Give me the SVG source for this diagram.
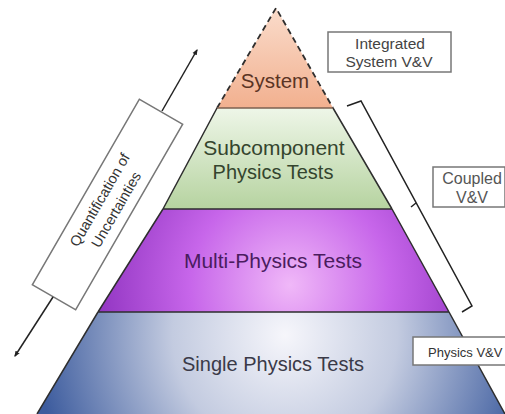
<svg xmlns="http://www.w3.org/2000/svg" width="505" height="414" viewBox="0 0 505 414">
<defs>
<style>
.lbl{font-family:"Liberation Sans","DejaVu Sans",sans-serif;text-anchor:middle}
.box{fill:#fff;stroke:#777;stroke-width:1.5}
.side{stroke:#2e2e2e;stroke-width:1.5;fill:none}
.conn{stroke:#222;stroke-width:1.5;fill:none}
</style>
<linearGradient id="gSys" x1="0" y1="0" x2="0" y2="1">
<stop offset="0" stop-color="#fadccb"/><stop offset="1" stop-color="#f2b08f"/>
</linearGradient>
<linearGradient id="gSub" x1="0" y1="0" x2="0" y2="1">
<stop offset="0" stop-color="#eef6e8"/><stop offset="1" stop-color="#b6d3a0"/>
</linearGradient>
<radialGradient id="gMul" gradientUnits="userSpaceOnUse" cx="290" cy="285" r="200">
<stop offset="0" stop-color="#f0b8f8"/><stop offset="0.5" stop-color="#c766ea"/><stop offset="1" stop-color="#8e32bf"/>
</radialGradient>
<radialGradient id="gSin" gradientUnits="userSpaceOnUse" cx="285" cy="335" r="250">
<stop offset="0" stop-color="#f6f6fb"/><stop offset="0.45" stop-color="#c3cbe0"/><stop offset="1" stop-color="#3d5c9e"/>
</radialGradient>
<marker id="ah" viewBox="0 0 10 10" refX="8" refY="5" markerWidth="4" markerHeight="4" orient="auto-start-reverse">
<path d="M0,1 L10,5 L0,9 z" fill="#222"/>
</marker>
</defs>

<g id="single">
<polygon points="98,312 449,312 505,414 37,414" fill="url(#gSin)"/>
<path class="side" d="M98,312 L37,414 M449,312 L505,414"/>
<text class="lbl" x="273" y="371" font-size="20" fill="#3a3a48">Single Physics Tests</text>
</g>
<g id="multi">
<polygon points="163,209 392,209 449,312 98,312" fill="url(#gMul)"/>
<path class="side" d="M163,209 L98,312 M392,209 L449,312 M98,312 L449,312"/>
<text class="lbl" x="273" y="268" font-size="21" fill="#4a1c5e">Multi-Physics Tests</text>
</g>
<g id="subcomponent">
<polygon points="217,108 333,108 392,209 163,209" fill="url(#gSub)"/>
<path class="side" d="M217,108 L163,209 M333,108 L392,209 M163,209 L392,209"/>
<text class="lbl" x="274" y="155" font-size="21" fill="#34452e">Subcomponent</text>
<text class="lbl" x="273" y="179" font-size="20" fill="#34452e">Physics Tests</text>
</g>
<g id="system">
<polygon points="276,8 333,108 217,108" fill="url(#gSys)"/>
<path d="M217,108 L276,8 L333,108" fill="none" stroke="#2e2e2e" stroke-width="1.8" stroke-dasharray="6,4"/>
<line x1="217" y1="108" x2="333" y2="108" stroke="#7d6050" stroke-width="1.5"/>
<text class="lbl" x="275" y="88" font-size="20.5" fill="#5b3424">System</text>
</g>

<g id="integrated">
<rect class="box" x="328" y="32" width="123" height="40"/>
<text class="lbl" x="390" y="49" font-size="15.5" fill="#444">Integrated</text>
<text class="lbl" x="389" y="67" font-size="15.5" fill="#444">System V&amp;V</text>
</g>
<g id="coupled">
<rect class="box" x="433" y="167" width="72" height="40" stroke="#999"/>
<text class="lbl" x="472" y="184" font-size="16" fill="#555">Coupled</text>
<text class="lbl" x="472" y="203" font-size="16" fill="#555">V&amp;V</text>
</g>
<g id="physics">
<rect class="box" x="413" y="337" width="95" height="28" stroke="#bbb"/>
<text x="428" y="357" font-size="13" fill="#333" font-family="Liberation Sans, DejaVu Sans, sans-serif">Physics V&amp;V</text>
</g>
<g id="quantification">
<g transform="translate(107.5,204.5) rotate(-60)">
<rect class="box" x="-107" y="-25" width="214" height="50" stroke="#333"/>
<text class="lbl" x="0" y="-4" font-size="14.5" fill="#333">Quantification of</text>
<text class="lbl" x="0" y="15" font-size="14.5" fill="#333">Uncertainties</text>
</g>
</g>

<g id="connectors">
<line class="conn" x1="162" y1="111" x2="197" y2="50" marker-end="url(#ah)"/>
<line class="conn" x1="53" y1="297" x2="15" y2="356" marker-end="url(#ah)"/>
<path class="conn" d="M347,106 L361,101 L472,306 L462,312 M416,203 L411,207"/>
</g>
</svg>
